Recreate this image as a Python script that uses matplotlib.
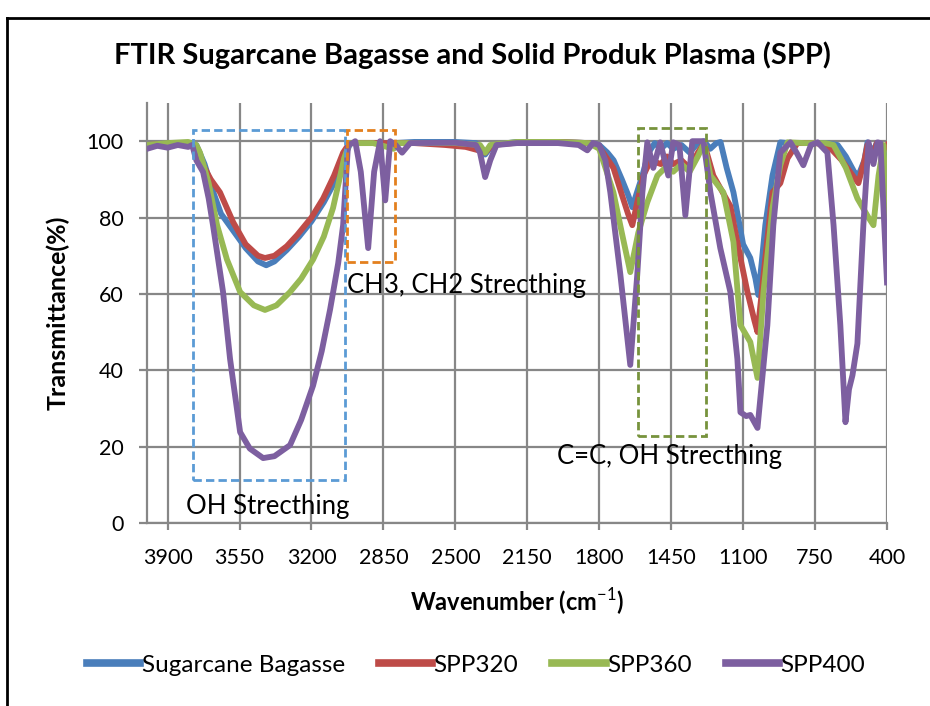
import matplotlib
matplotlib.use("Agg")
import matplotlib.pyplot as plt
from matplotlib.patches import Rectangle
from matplotlib.lines import Line2D

plt.rcParams['font.family'] = ['Lato', 'DejaVu Sans']
plt.rcParams['mathtext.fontset'] = 'custom'
plt.rcParams['mathtext.rm'] = 'Lato'
plt.rcParams['mathtext.bf'] = 'Lato:bold'

# wavenumber (cm-1) / transmittance (%)
bagasse_x = [4000, 3900, 3800, 3760, 3720, 3680, 3640, 3580, 3520, 3460, 3420, 3380, 3320, 3260,
             3200, 3140, 3080, 3040, 3010, 2950, 2800, 2700, 2500, 2400, 2355, 2320, 2200, 2000,
             1850, 1800, 1760, 1730, 1690, 1660, 1639, 1620, 1590, 1560, 1530, 1500, 1470, 1440,
             1400, 1360, 1320, 1290, 1260, 1230, 1210, 1180, 1147, 1100, 1065, 1040, 1026, 1010,
             992, 957, 919, 880, 800, 700, 640, 600, 560, 539, 510, 495, 470, 450, 430, 400]
bagasse_y = [98.5, 99.3, 99.5, 99, 94, 87, 81, 76.5, 72, 68.5, 67.5, 68.5, 71.5, 75,
             79, 84, 90, 96, 99.5, 99.5, 99.5, 99.8, 99.8, 99.5, 96.5, 99, 99.8, 99.8,
             99.5, 99, 97, 95, 90, 86, 82.7, 86, 91, 97, 99.5, 98, 99.5, 98,
             99, 97, 99.5, 100, 98, 99.5, 99.8, 93, 86.6, 73, 69.4, 64, 59.7, 68,
             78, 91, 99.7, 99.5, 99.5, 99.5, 99, 96, 92, 91, 95, 99.7, 97, 99.5, 97, 96]

spp320_x = [4000, 3900, 3800, 3770, 3730, 3690, 3645, 3581, 3520, 3460, 3426, 3380, 3320, 3270,
            3200, 3143, 3090, 3046, 3015, 2900, 2700, 2550, 2450, 2380, 2355, 2320, 2200, 2000,
            1850, 1800, 1731, 1690, 1660, 1639, 1615, 1585, 1550, 1500, 1470, 1440, 1400, 1360,
            1320, 1290, 1245, 1162, 1113, 1079, 1045, 1030, 1010, 992, 957, 919, 884, 836,
            750, 690, 620, 560, 539, 510, 495, 470, 450, 430, 400]
spp320_y = [99, 99.3, 99.5, 99, 94, 90, 86.6, 78.8, 73, 70, 69.4, 70, 72.5, 75.4,
            80, 85, 91, 97, 99.5, 99.5, 99.5, 99, 98.5, 97.5, 97, 99, 99.6, 99.8,
            99.5, 98.5, 93, 86, 81, 78, 84, 91, 95, 94, 96, 94, 95, 93,
            97, 99.5, 91, 83, 69.4, 60.5, 53, 50, 60, 69.4, 86.6, 89, 95.5, 99.5,
            99.5, 99, 95, 90.5, 89, 95, 99, 96, 99.5, 97, 99]

spp360_x = [4000, 3900, 3800, 3760, 3742, 3700, 3659, 3611, 3547, 3480, 3426, 3370, 3304, 3250,
            3192, 3140, 3095, 3041, 3015, 2900, 2800, 2780, 2500, 2380, 2355, 2330, 2200, 2000,
            1850, 1800, 1731, 1690, 1649, 1610, 1566, 1517, 1480, 1440, 1400, 1360, 1320, 1290,
            1259, 1196, 1147, 1113, 1065, 1030, 1001, 957, 919, 884, 800, 700, 660, 600,
            544, 490, 466, 441, 417, 400]
spp360_y = [99, 99.5, 99.8, 99, 97, 89, 78, 69, 60.5, 57, 55.8, 57, 60.5, 64,
            69, 75, 82.5, 95.5, 99.5, 99.5, 98, 99.5, 99.5, 99, 97, 99, 99.8, 99.8,
            99.5, 98, 86.6, 76, 65.7, 76, 84, 91, 93, 92, 94, 92, 96, 99.5,
            91, 86.6, 73.6, 51.8, 47.4, 38, 60.5, 82.5, 93.7, 99.7, 99.5, 99.5, 99, 93,
            85, 80, 78, 91, 99, 78]

spp400_x = [4000, 3950, 3900, 3850, 3800, 3780, 3760, 3727, 3700, 3679, 3630, 3596, 3547, 3500,
            3435, 3380, 3304, 3250, 3192, 3150, 3109, 3070, 3046, 3022, 3000, 2987, 2960, 2924,
            2895, 2866, 2841, 2817, 2790, 2759, 2720, 2500, 2400, 2380, 2355, 2330, 2300, 2200,
            2000, 1900, 1858, 1830, 1800, 1770, 1746, 1697, 1649, 1615, 1590, 1566, 1537, 1503,
            1464, 1440, 1410, 1381, 1347, 1293, 1259, 1211, 1162, 1128, 1113, 1085, 1065, 1030,
            982, 953, 919, 870, 840, 807, 770, 738, 690, 660, 627, 602, 585, 568, 544, 515, 490,
            466, 446, 432, 400]
spp400_y = [98, 98.8, 98.3, 99, 98.5, 99, 95, 91.9, 85, 78, 60.5, 43, 23.8, 19.5,
            17, 17.5, 20.4, 27, 36, 45, 56, 68, 78, 99, 99.5, 100, 92, 72,
            92, 100, 84.5, 100, 99, 97, 99.5, 99.6, 99, 97, 90.6, 95, 99, 99.5,
            99.5, 99, 97.6, 99.5, 99, 95, 86.6, 65, 41.4, 65, 86.6, 99.7, 93, 99.7,
            91, 99.7, 99, 80.6, 100, 100, 86.6, 72, 60.5, 43, 29, 28, 28.3, 24.9,
            51.8, 78, 97, 99.7, 97, 93.7, 99, 99.7, 97, 78, 51.8, 26.4, 35, 38.7, 47, 78, 99.7,
            94, 99.7, 99.5, 63]

series = [
    ("Sugarcane Bagasse", bagasse_x, bagasse_y, "#4A7EBB"),
    ("SPP320", spp320_x, spp320_y, "#BE4B48"),
    ("SPP360", spp360_x, spp360_y, "#98B954"),
    ("SPP400", spp400_x, spp400_y, "#7D5FA0"),
]

fig = plt.figure(figsize=(9.3, 7.06), dpi=100)
ax = fig.add_axes([147 / 930, 1 - 523 / 706, (887 - 147) / 930, (523 - 103) / 706])

for name, xs, ys, col in series:
    ax.plot(xs, ys, color=col, lw=4.2, label=name, solid_joinstyle='round', zorder=3)

ax.set_xlim(4000, 400)
ax.set_ylim(0, 110)
ax.set_xticks(range(3900, 399, -350))
ax.set_yticks(range(0, 101, 20))
ax.grid(True, color="#878787", lw=1.6)
ax.set_axisbelow(True)
for s in ["top", "right"]:
    ax.spines[s].set_visible(False)
for s in ["left", "bottom"]:
    ax.spines[s].set_color("#878787")
    ax.spines[s].set_linewidth(1.6)
ax.tick_params(axis="x", length=5, width=1.6, color="#878787", pad=13, labelsize=15.5)
ax.tick_params(axis="y", length=6, width=1.6, color="#878787", pad=11, labelsize=15.5)

# highlighted regions
boxes = [
    (3776, 11.3, 3036, 102.9, "#5B9BD5"),
    (3026, 68.3, 2793, 102.9, "#E3801E"),
    (1610, 22.8, 1279, 103.4, "#77933C"),
]
for x0, y0, x1, y1, col in boxes:
    ax.add_patch(Rectangle((x0, y0), x1 - x0, y1 - y0, fill=False, ec=col, lw=2,
                           ls=(0, (3, 1.5)), zorder=4, clip_on=False))

ax.text(3810, 4.2, "OH Strecthing", fontsize=18.5, va="center", ha="left")
ax.text(3026, 62.3, "CH3, CH2 Strecthing", fontsize=18.5, va="center", ha="left")
ax.text(2004, 17.3, "C=C, OH Strecthing", fontsize=18.5, va="center", ha="left")

fig.text(0.508, 0.922, "FTIR Sugarcane Bagasse and Solid Produk Plasma (SPP)",
         fontsize=21, fontweight="bold", ha="center", va="center")
fig.text(0.062, 0.557, "Transmittance(%)", fontsize=18, fontweight="bold",
         rotation=90, ha="center", va="center")
fig.text(0.556, 1 - 602 / 706, r"Wavenumber (cm$^{\mathrm{-1}}$)", fontsize=17, fontweight="bold",
         ha="center", va="center")

handles = [Line2D([], [], color=c, lw=5.5) for _, _, _, c in series]
fig.legend(handles, [s[0] for s in series], loc="center", bbox_to_anchor=(476 / 930, 1 - 665 / 706),
           ncol=4, frameon=False, fontsize=17.5, handlelength=2.2, handletextpad=0.05,
           columnspacing=1.4)

# outer chart border
fig.add_artist(Line2D([7 / 930, 7 / 930], [0, 1 - 18 / 706], color="black", lw=2))
fig.add_artist(Line2D([7 / 930, 1], [1 - 18 / 706, 1 - 18 / 706], color="black", lw=2))

fig.savefig("out.png", dpi=100, facecolor="white")
